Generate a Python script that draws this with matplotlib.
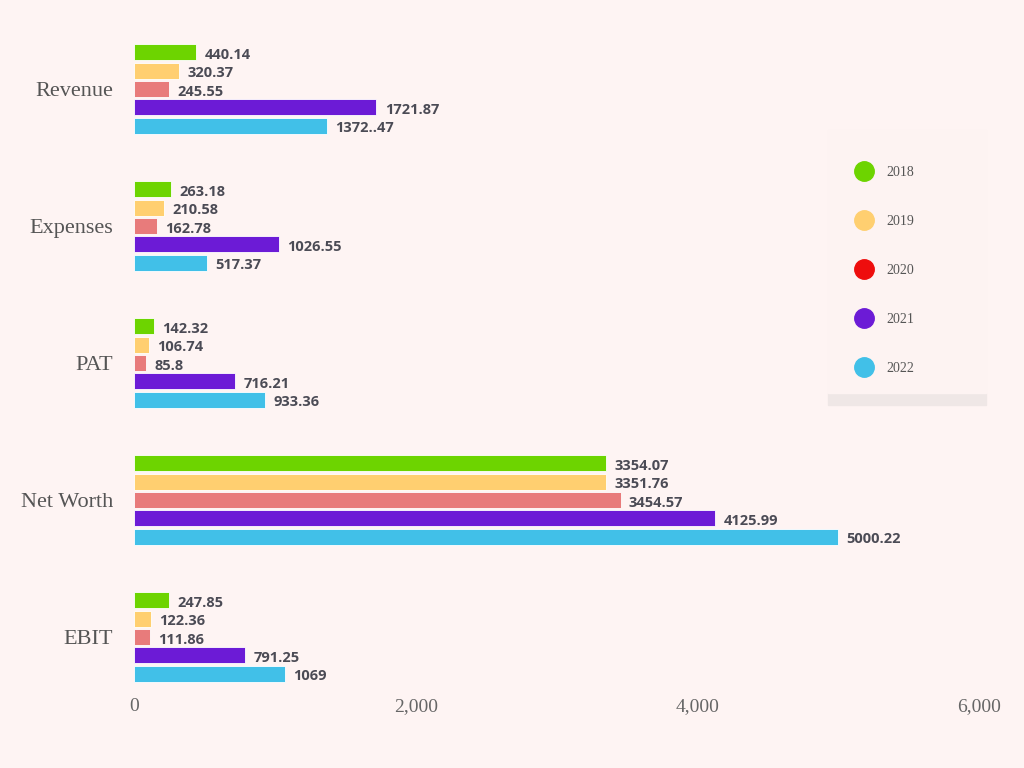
import matplotlib
matplotlib.use("Agg")
import matplotlib.pyplot as plt
from matplotlib.lines import Line2D
from matplotlib.patches import Rectangle
import numpy as np

categories = ["Revenue", "Expenses", "PAT", "Net Worth", "EBIT"]
years = ["2018", "2019", "2020", "2021", "2022"]
values = {
    "2018": [440.14, 263.18, 142.32, 3354.07, 247.85],
    "2019": [320.37, 210.58, 106.74, 3351.76, 122.36],
    "2020": [245.55, 162.78, 85.8, 3454.57, 111.86],
    "2021": [1721.87, 1026.55, 716.21, 4125.99, 791.25],
    "2022": [1372.47, 517.37, 933.36, 5000.22, 1069],
}
value_labels = {
    "2018": ["440.14", "263.18", "142.32", "3354.07", "247.85"],
    "2019": ["320.37", "210.58", "106.74", "3351.76", "122.36"],
    "2020": ["245.55", "162.78", "85.8", "3454.57", "111.86"],
    "2021": ["1721.87", "1026.55", "716.21", "4125.99", "791.25"],
    "2022": ["1372..47", "517.37", "933.36", "5000.22", "1069"],
}
bar_colors = ["#6dd400", "#ffcf70", "#e87b7b", "#6c1bd6", "#41c0e8"]
legend_colors = ["#6dd400", "#ffcf70", "#ee0d0d", "#6c1bd6", "#41c0e8"]
xticks = [0, 2000, 4000, 6000]

bg = "#fef4f3"
fig = plt.figure(figsize=(10.24, 7.68), dpi=100, facecolor=bg)
ax = fig.add_axes([134/1024, 1-690/768, (979-134)/1024, (690-30)/768])
ax.set_facecolor(bg)

y = np.arange(len(categories))
pitch = 0.134
h = 0.117
for i, yr in enumerate(years):
    pos = y + (i - 2) * pitch
    bars = ax.barh(pos, values[yr], height=h, color=bar_colors[i],
                   edgecolor="white", linewidth=0.6)
    for b, lab in zip(bars, value_labels[yr]):
        ax.annotate(lab, (b.get_width(), b.get_y() + b.get_height()/2),
                    xytext=(6, -2), textcoords="offset points",
                    ha="left", va="center", fontsize=10.5, fontweight="bold",
                    family="Open Sans", color="#4b4b55")

ax.set_xlim(0, 6000)
ax.set_ylim(4 + 53/137, -59/137)
ax.set_yticks(y)
ax.set_yticklabels(categories, family="Liberation Serif", fontsize=16, color="#555555")
ax.set_xticks(xticks)
ax.set_xticklabels([f"{v:,}" for v in xticks], family="Liberation Serif",
                   fontsize=14, color="#666666")
ax.tick_params(axis="y", length=0, pad=15)
ax.tick_params(axis="x", length=0, pad=6)
for s in ax.spines.values():
    s.set_visible(False)

# legend panel
fig.patches.append(Rectangle((828/1024, 1-405/768), 158/1024, 12/768,
                             transform=fig.transFigure, color="#efe7e6", zorder=0))
fig.patches.append(Rectangle((828/1024, 1-393/768), 158/1024, 263/768,
                             transform=fig.transFigure, color="#fdf3f2", zorder=0))
handles = [Line2D([], [], marker="o", linestyle="none", markersize=14,
                  markerfacecolor=c, markeredgecolor=c) for c in legend_colors]
leg = fig.legend(handles, years, loc="upper left",
                 bbox_to_anchor=(838/1024, 1-153/768), frameon=False,
                 labelspacing=2.6, handletextpad=0.6,
                 prop={"family": "Liberation Serif", "size": 10})
for t in leg.get_texts():
    t.set_color("#555555")

fig.savefig("out.png", dpi=100, facecolor=bg)
